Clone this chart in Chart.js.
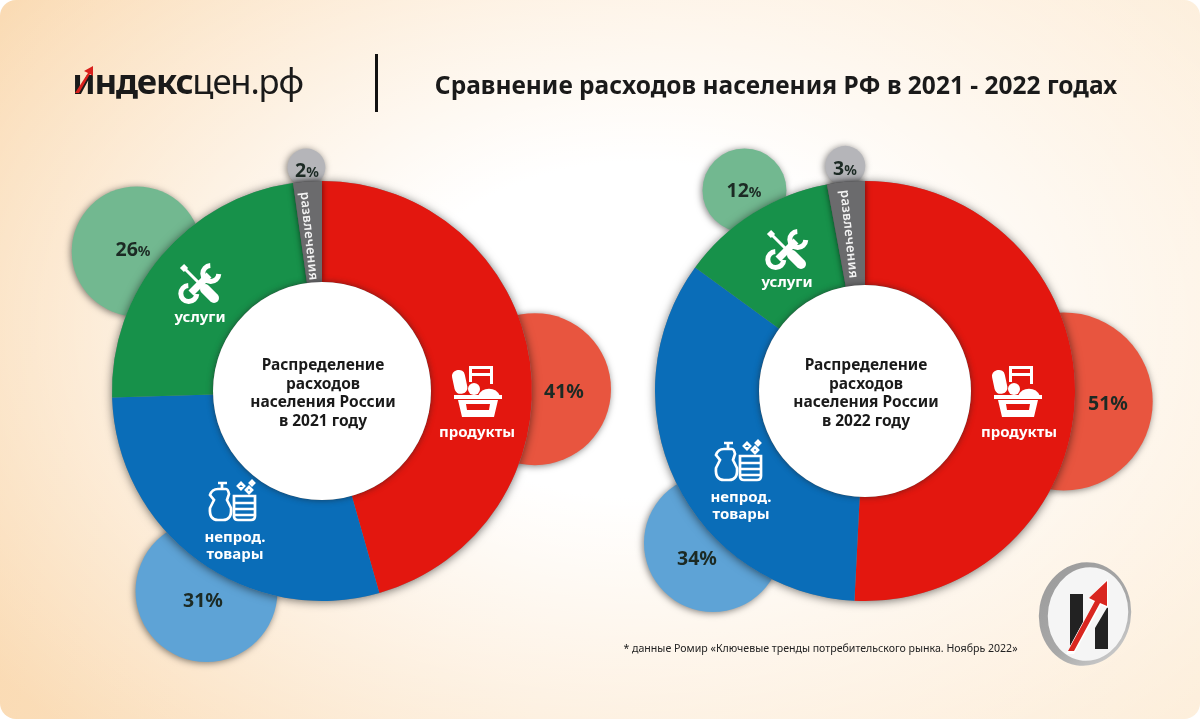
<!DOCTYPE html>
<html lang="ru">
<head>
<meta charset="utf-8">
<title>Сравнение расходов населения РФ</title>
<script src="https://cdn.jsdelivr.net/npm/chart.js@4"></script>
<style>
  html, body { margin: 0; padding: 0; background: #fff; }
  #page {
    position: relative; width: 1200px; height: 719px; overflow: hidden; border-radius: 16px;
    font-family: 'Noto Sans', sans-serif; color: #1a1a1a;
    background:
      radial-gradient(ellipse 820px 560px at 640px 330px, rgba(255,255,255,1) 30%, rgba(255,255,255,0) 100%),
      linear-gradient(100deg, #fad9b0 0%, #fce6cb 50%, #fdeeda 100%);
  }
  canvas { position: absolute; top: 0; }
  #c2021 { left: 0; }
  #c2022 { left: 630px; }
  .t { position: absolute; white-space: nowrap; transform: translate(-50%, -50%); }
  .lbl { color: #fff; font-weight: 700; font-size: 15px; line-height: 17px; text-align: center; }
  .pct { font-weight: 700; font-size: 19.5px; color: #1c2a24; }
  .pct small { font-size: 14px; }
  .mid { font-weight: 700; font-size: 15.5px; line-height: 18.7px; text-align: center; color: #1a1a1a; }
  .ent { color: #f2f2f2; font-weight: 600; font-size: 13px; letter-spacing: 0.35px; }
  svg { position: absolute; overflow: visible; }
</style>
</head>
<body>
<div id="page">
  <canvas id="c2021" width="630" height="719" style="width:630px;height:719px"></canvas>
  <canvas id="c2022" width="570" height="719" style="width:570px;height:719px"></canvas>

  <div class="t" style="left:187.5px;top:81px;font-size:34.7px;letter-spacing:-1.2px;line-height:40px"><span style="font-weight:700">индекс</span>цен.рф</div>
  <svg style="left:73px;top:66px" width="20" height="30"><path d="M2 27 L15 7 L11 5 L20 0 L20 10 L17 8 L6 27Z" fill="#d9201c"/></svg>
  <div style="position:absolute;left:375px;top:54px;width:3px;height:58px;background:#111"></div>
  <div class="t" style="left:776px;top:84px;font-size:24.5px;font-weight:700;color:#1a1a1a" id="title"></div>
  <div class="t" style="left:820.5px;top:648px;font-size:10.6px;color:#222" id="note"></div>

  <svg width="0" height="0">
    <defs>
      <g id="tools" fill="none" stroke="#fff">
        <path d="M11 29 L29 11" stroke-width="7"/>
        <path d="M36.5 3.5 A8 8 0 1 0 36.5 15.5" stroke-width="5" transform="rotate(-45 31 10)"/>
        <path d="M3.5 36.5 A8 8 0 1 0 3.5 24.5" stroke-width="5" transform="rotate(-45 9 30) rotate(180 9 30)"/>
        <path d="M3 3 L19 19" stroke-width="3"/>
        <path d="M2 2 L6 6" stroke-width="6"/>
        <path d="M25 25 L34 34" stroke-width="10" stroke-linecap="round"/>
      </g>
      <g id="basket" fill="#fff">
        <rect x="17" y="0" width="24" height="3"/><rect x="17" y="0" width="3" height="16"/><rect x="38" y="0" width="3" height="18"/><rect x="17" y="7" width="24" height="3"/>
        <rect x="1" y="4" width="13" height="24" rx="6" transform="rotate(-12 7 15)"/>
        <circle cx="22" cy="23" r="6"/><path d="M26 30 A12 12 0 0 1 48 30Z"/>
        <rect x="2" y="29" width="48" height="4"/>
        <path d="M6 34 H46 L42 51 H10Z M14 38 L15 44 H37 L38 38Z" fill-rule="evenodd"/>
      </g>
      <g id="goods" fill="none" stroke="#fff" stroke-width="2.7">
        <path d="M10 3 H19 M14 3 V9 M10 9 H18 Q20 9 21 14 L19 20 L23 28 Q24 40 15 40 H10 Q1 40 2 28 L6 20 L2 15 Q4 9 10 9Z"/>
        <path d="M26 16 H47 V36 Q47 40 43 40 H30 Q26 40 26 36Z M26 23 H47 M26 29 H47 M26 35 H47"/>
        <path d="M30 6 L33 3 L36 6 L33 9Z M38 10 L41 7 L44 10 L41 13Z M42 3 L44 1 L46 3 L44 5Z"/>
      </g>
    </defs>
  </svg>
  <svg style="left:180px;top:264px" width="40" height="40"><use href="#tools"/></svg>
  <svg style="left:767px;top:230px" width="40" height="40"><use href="#tools"/></svg>
  <svg style="left:452px;top:366px" width="52" height="52"><use href="#basket"/></svg>
  <svg style="left:992px;top:366px" width="52" height="52"><use href="#basket"/></svg>
  <svg style="left:208px;top:480px" width="50" height="42"><use href="#goods"/></svg>
  <svg style="left:714px;top:440px" width="50" height="42"><use href="#goods"/></svg>

  <svg style="left:1038px;top:562px" width="96" height="106">
    <defs><linearGradient id="rim" x1="0" y1="0" x2="1" y2="1"><stop offset="0" stop-color="#9a9a9a"/><stop offset="0.6" stop-color="#a8a8a8"/><stop offset="1" stop-color="#d8d8d8"/></linearGradient></defs>
    <ellipse cx="47" cy="52" rx="46" ry="52" fill="url(#rim)" transform="rotate(10 47 52)"/>
    <ellipse cx="50" cy="52" rx="40" ry="47" fill="#f5f5f5" transform="rotate(10 50 52)"/>
    <path d="M32 32 L45 32 L45 60 L32 84Z M57 87 L57 66 L70 44 L70 87Z" fill="#222"/>
    <path d="M28 92 L56 40 L50 37 L70 17 L70 46 L63 43 L36 92Z" fill="#fff"/>
    <path d="M30 89 L57 39 L51 36 L69 19 L69 44 L62 41 L36 89Z" fill="#d9261f"/>
  </svg>
</div>

<script>
const categories = ['продукты', 'непрод. товары', 'услуги', 'развлечения'];
const colors = ['#e3170f', '#0a6db8', '#17914a', '#6b6b6d'];
const bubbleColors = ['#e8553f', '#5ea3d6', '#72b890', '#b5b5b9'];

// printed percentages
const shares2021 = [41, 31, 26, 2];
const shares2022 = [51, 34, 12, 3];
// ring as drawn in the picture (2021 arcs don't follow its printed numbers)
const arcs2021 = [45.6, 28.9, 23.3, 2.2];
const arcs2022 = [50.8, 34.2, 12.1, 2.9];

const titleText = 'Сравнение расходов населения РФ в 2021 - 2022 годах';
const noteText = '* данные Ромир «Ключевые тренды потребительского рынка. Ноябрь 2022»';

document.getElementById('title').textContent = titleText;
document.getElementById('note').textContent = noteText;

const page = document.getElementById('page');
function addText(cls, x, y, html, extra) {
  const d = document.createElement('div');
  d.className = 't ' + cls;
  d.style.left = x + 'px';
  d.style.top = y + 'px';
  if (extra) d.style.cssText += extra;
  d.innerHTML = html;
  page.appendChild(d);
}

/* bubbles sit behind the ring */
const ringPlugin = {
  id: 'ring',
  beforeDatasetsDraw(chart, args, opts) {
    const ctx = chart.ctx;
    const arc = chart.getDatasetMeta(0).data[0];
    ctx.save();
    opts.spots.forEach((s, i) => {
      const a = (s.angle - 90) * Math.PI / 180;
      ctx.beginPath();
      ctx.arc(arc.x + Math.cos(a) * s.dist, arc.y + Math.sin(a) * s.dist, s.r, 0, Math.PI * 2);
      ctx.shadowColor = 'rgba(0,0,0,0.5)';
      ctx.shadowBlur = 7;
      ctx.shadowOffsetX = -1;
      ctx.shadowOffsetY = 1;
      ctx.fillStyle = bubbleColors[i];
      ctx.fill();
    });
    ctx.beginPath();
    ctx.arc(arc.x, arc.y, arc.outerRadius, 0, Math.PI * 2);
    ctx.shadowColor = 'rgba(0,0,0,0.55)';
    ctx.shadowBlur = 10;
    ctx.shadowOffsetX = 0;
    ctx.shadowOffsetY = 1;
    ctx.fillStyle = '#888';
    ctx.fill();
    ctx.restore();
  },
  afterDatasetsDraw(chart) {
    const ctx = chart.ctx;
    const data = chart.getDatasetMeta(0).data;
    const arc = data[0];
    // grey slice casts a shadow on its neighbours
    ctx.save();
    ctx.shadowColor = 'rgba(0,0,0,0.6)';
    ctx.shadowBlur = 6;
    data[3].draw(ctx);
    ctx.restore();
    // soft edge of the white hole
    ctx.save();
    ctx.beginPath();
    ctx.arc(arc.x, arc.y, arc.innerRadius, 0, Math.PI * 2);
    ctx.fillStyle = '#fff';
    ctx.shadowColor = 'rgba(30,30,30,0.6)';
    ctx.shadowBlur = 6;
    ctx.fill();
    ctx.restore();
  }
};

function makeRing(id, arcs, radius, cutout, padding, spots) {
  return new Chart(document.getElementById(id), {
    type: 'doughnut',
    plugins: [ringPlugin],
    data: {
      labels: categories,
      datasets: [{ data: arcs, backgroundColor: colors, borderWidth: 0 }]
    },
    options: {
      responsive: false,
      animation: false,
      radius: radius,
      cutout: cutout,
      layout: { padding: padding },
      plugins: {
        legend: { display: false },
        tooltip: { enabled: false },
        ring: { spots: spots }
      }
    }
  });
}

makeRing('c2021', arcs2021, 210, 109 / 210 * 100 + '%', { left: 14, top: 63 }, [
  { angle: 89.5, dist: 213, r: 76 }, { angle: 210, dist: 231, r: 71 }, { angle: 307, dist: 232, r: 65 }, { angle: 356, dist: 224, r: 19 }
]);
makeRing('c2022', arcs2022, 210, 106 / 210 * 100 + '%', { right: 100, top: 63 }, [
  { angle: 93, dist: 199, r: 89 }, { angle: 225, dist: 215, r: 69 }, { angle: 329, dist: 234, r: 42 }, { angle: 355, dist: 226, r: 20 }
]);

function pct(v, small) {
  return small ? v + '<small>%</small>' : v + '%';
}

const midText = y => 'Распределение<br>расходов<br>населения России<br>в ' + y + ' году';
addText('mid', 323, 392, midText(2021));
addText('mid', 866, 392, midText(2022));

const goods = categories[1].split(' ').join('<br>');

addText('lbl', 477, 431, categories[0]);
addText('lbl', 235, 545, goods);
addText('lbl', 200, 316, categories[2]);
addText('ent', 310, 236, categories[3], 'transform:translate(-50%,-50%) rotate(84deg)');
addText('lbl', 1019, 431, categories[0]);
addText('lbl', 741, 505, goods);
addText('lbl', 787, 281, categories[2]);
addText('ent', 850, 234, categories[3], 'transform:translate(-50%,-50%) rotate(84deg)');

addText('pct', 564, 390, pct(shares2021[0]));
addText('pct', 203, 599, pct(shares2021[1]));
addText('pct', 133, 248, pct(shares2021[2], true));
addText('pct', 307, 169, pct(shares2021[3], true));
addText('pct', 1108, 402, pct(shares2022[0]));
addText('pct', 697, 557, pct(shares2022[1]));
addText('pct', 744, 189, pct(shares2022[2], true));
addText('pct', 845, 167, pct(shares2022[3], true));
</script>
</body>
</html>
